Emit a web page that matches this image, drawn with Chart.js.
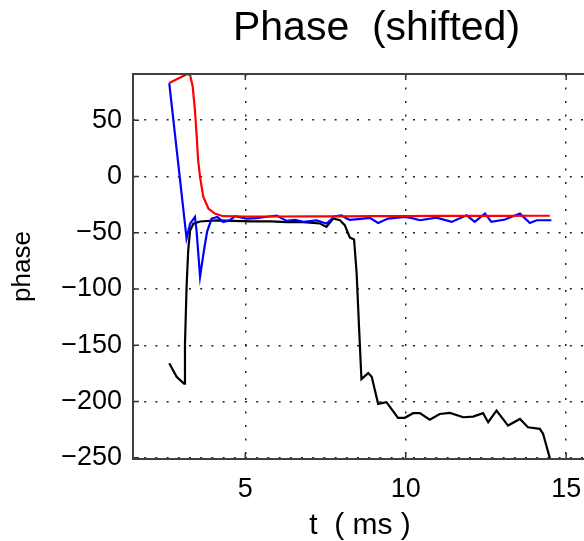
<!DOCTYPE html>
<html>
<head>
<meta charset="utf-8">
<script src="https://cdn.jsdelivr.net/npm/chart.js@4.4.1/dist/chart.umd.min.js"></script>
<style>
    html, body { margin: 0; padding: 0; background: #fff; overflow: hidden; }
    #wrap { position: relative; width: 753px; height: 541px; }
</style>
</head>
<body>
<div id="wrap"><canvas id="phaseChart"></canvas></div>
<script>
// values (t in ms, phase in degrees)
const redT = [2.63, 3.19, 3.28, 3.36, 3.43, 3.48, 3.53, 3.59, 3.69, 3.85, 4.05, 4.31, 5.0, 6.0, 7.0, 8.0, 9.0, 10.0, 11.0, 12.0, 13.0, 14.0, 14.49];
const redPhase = [83, 91, 90, 80, 59, 38, 14.5, -0.5, -18, -28.5, -33, -35.3, -35.6, -35.6, -35.5, -35.4, -35.3, -35.2, -35.1, -35, -35, -34.9, -34.9];

const blueT = [2.63, 3.17, 3.28, 3.43, 3.48, 3.59, 3.71, 3.81, 3.95, 4.13, 4.31, 4.52, 4.68, 5.04, 5.35, 5.67, 5.98, 6.29, 6.55, 6.81, 7.22, 7.53, 7.79, 8.0, 8.16, 8.26, 8.67, 8.88, 9.14, 9.45, 9.97, 10.2, 10.44, 10.96, 11.43, 11.9, 12.15, 12.47, 12.67, 13.09, 13.56, 13.87, 14.08, 14.54];
const bluePhase = [83, -55, -42, -36, -48, -89, -66, -49, -37.4, -36, -40.4, -38.9, -35.3, -37.4, -37, -35.8, -34.8, -39.5, -38.5, -40.4, -39, -41.8, -35.3, -34.5, -37.4, -38.5, -37.4, -36.8, -41.3, -37.4, -36, -37, -38.9, -36.6, -40.4, -34.5, -40.4, -33, -40.4, -38.3, -33, -41.3, -38.9, -38.9];

const blackT = [2.63, 2.86, 3.09, 3.12, 3.17, 3.22, 3.28, 3.38, 3.59, 4.1, 4.6, 5.2, 5.8, 6.3, 6.8, 7.33, 7.53, 7.74, 7.95, 8.1, 8.26, 8.39, 8.47, 8.55, 8.62, 8.83, 8.94, 9.14, 9.4, 9.76, 9.97, 10.23, 10.44, 10.75, 11.06, 11.38, 11.79, 12.1, 12.41, 12.57, 12.83, 13.19, 13.56, 13.81, 14.18, 14.28, 14.51];
const blackPhase = [-166, -178, -184, -149, -98, -66, -48, -42, -40, -39, -39.5, -40, -40, -40.5, -40.5, -41.8, -44.8, -37.4, -38.9, -43.3, -54.3, -56, -86, -137, -180, -174.7, -178, -202, -200.5, -214.4, -214.4, -210.3, -210.3, -216, -211, -210, -213.9, -213.3, -210.3, -218.3, -208, -221.3, -215.4, -222.8, -224.2, -228.6, -252];

const xTickValues = [5, 10, 15];
const yTickValues = [-250, -200, -150, -100, -50, 0, 50];

const toPoints = (ts, vs) => ts.map((t, i) => ({ x: t, y: vs[i] }));

// frame around the plot plus short inward tick marks
const frameTicks = {
    id: 'frameTicks',
    afterDraw(chart) {
        const { ctx, chartArea: a, scales } = chart;
        ctx.save();
        ctx.strokeStyle = '#333';
        ctx.lineWidth = 1.5;
        ctx.beginPath();
        xTickValues.forEach(v => {
            const px = scales.x.getPixelForValue(v);
            ctx.moveTo(px, a.bottom); ctx.lineTo(px, a.bottom - 6);
            ctx.moveTo(px, a.top); ctx.lineTo(px, a.top + 6);
        });
        yTickValues.forEach(v => {
            const py = scales.y.getPixelForValue(v);
            ctx.moveTo(a.left, py); ctx.lineTo(a.left + 6, py);
        });
        ctx.stroke();
        ctx.lineWidth = 2;
        ctx.strokeStyle = '#404040';
        ctx.strokeRect(a.left, a.top, a.right - a.left, a.bottom - a.top);
        ctx.restore();
    }
};

const fontFamily = '"Liberation Sans", Arial, Helvetica, sans-serif';

new Chart(document.getElementById('phaseChart'), {
    type: 'line',
    data: {
        datasets: [
            { data: toPoints(redT, redPhase), borderColor: '#ff0000', borderWidth: 2.2 },
            { data: toPoints(blueT, bluePhase), borderColor: '#0000ff', borderWidth: 2.2 },
            { data: toPoints(blackT, blackPhase), borderColor: '#000000', borderWidth: 2.2 }
        ]
    },
    options: {
        responsive: true,
        maintainAspectRatio: false,
        devicePixelRatio: 1,
        animation: false,
        parsing: false,
        elements: { point: { radius: 0 }, line: { tension: 0 } },
        layout: { padding: 0 },
        plugins: {
            legend: { display: false },
            tooltip: { enabled: false },
            title: {
                display: true,
                text: 'Phase  (shifted)',
                color: '#000',
                font: { family: fontFamily, size: 41, weight: 'normal' },
                padding: { top: 4, bottom: 20.8 }
            }
        },
        scales: {
            x: {
                type: 'linear',
                min: 1.5,
                max: 15.65,
                afterBuildTicks: s => { s.ticks = xTickValues.map(v => ({ value: v })); },
                afterFit: s => { s.height = 82; },
                grid: { color: '#222', lineWidth: 1.5, drawTicks: false },
                border: { display: false, dash: [2, 11.5] },
                ticks: { color: '#000', padding: 14, font: { family: fontFamily, size: 27 } },
                title: {
                    display: true,
                    text: 't  ( ms )',
                    color: '#000',
                    font: { family: fontFamily, size: 30, lineHeight: 1 },
                    padding: 0
                }
            },
            y: {
                type: 'linear',
                min: -251,
                max: 91,
                afterBuildTicks: s => { s.ticks = yTickValues.map(v => ({ value: v })); },
                afterFit: s => { s.width = 133; },
                grid: { color: '#222', lineWidth: 1.5, drawTicks: false },
                border: { display: false, dash: [2, 9.2] },
                ticks: {
                    color: '#000',
                    padding: 11,
                    font: { family: fontFamily, size: 27 },
                    callback: v => v < 0 ? '\u2212' + Math.abs(v) : String(v)
                },
                title: {
                    display: true,
                    text: 'phase',
                    color: '#000',
                    font: { family: fontFamily, size: 26 },
                    padding: { top: 7, bottom: 0 }
                }
            },
            // empty right-hand box: keeps the plot running off the window edge
            // while the title stays centred on the full figure width
            yRight: {
                type: 'linear',
                position: 'right',
                min: -251,
                max: 91,
                afterFit: s => { s.width = 166; },
                grid: { display: false, drawTicks: false },
                border: { display: false },
                ticks: { display: false }
            }
        }
    },
    plugins: [frameTicks]
});
</script>
</body>
</html>
